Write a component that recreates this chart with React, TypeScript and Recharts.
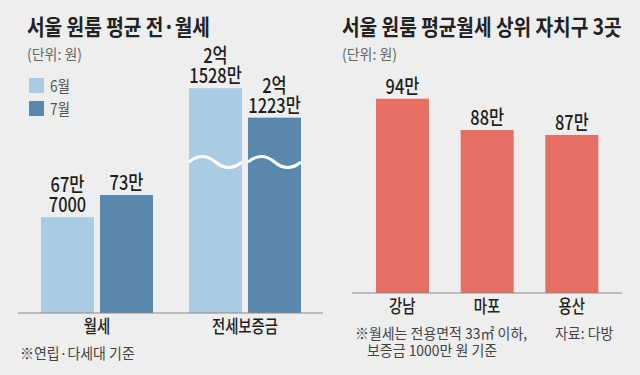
import { BarChart, Bar, XAxis, YAxis, LabelList } from "recharts";

const months = ["6월", "7월"];
const rentByMonth = [677000, 730000]; // 월세, 원
const depositByMonth = [215280000, 212230000]; // 전세보증금, 원
const districts = ["강남", "마포", "용산"];
const districtRent = [940000, 880000, 870000];

const FONT = "'Noto Sans CJK KR', 'Noto Sans', sans-serif";
const SQUEEZE = 0.8;
const BLUE_LIGHT = "#a9cbe3";
const BLUE_DARK = "#5a88ad";
const RED = "#e66f63";
const BG = "#eeeeee";
const AXIS = "#8a8a8a";

const rentData = [{ name: "월세", m6: rentByMonth[0], m7: rentByMonth[1] }];
const depositData = [
  { name: "전세보증금", m6: depositByMonth[0], m7: depositByMonth[1] },
];
const districtData = districts.map((name, i) => ({ name, rent: districtRent[i] }));

// 677000 -> ["67만", "7000"], 215280000 -> ["2억", "1528만"]
function splitWon(v: number): string[] {
  const eok = Math.floor(v / 1e8);
  const man = Math.floor((v % 1e8) / 1e4);
  const rest = v % 1e4;
  if (eok) return [`${eok}억`, ...(man ? [`${man}만`] : [])];
  return [`${man}만`, ...(rest ? [`${rest}`] : [])];
}

const squeeze = (cx: number, s = SQUEEZE) =>
  `matrix(${s} 0 0 1 ${cx * (1 - s)} 0)`;

const LINE = 20;

const ValueLabel = (props: any) => {
  const { x, y, width, value } = props;
  const lines = splitWon(Number(value));
  const cx = Number(x) + Number(width) / 2;
  return (
    <text
      x={cx}
      y={Number(y) - 5 - (lines.length - 1) * LINE}
      textAnchor="middle"
      fontSize={20}
      fontWeight={500}
      fill="#1e1e1e"
      fontFamily={FONT}
      transform={squeeze(cx, 0.82)}
    >
      {lines.map((l, i) => (
        <tspan key={i} x={cx} dy={i ? LINE : 0}>
          {l}
        </tspan>
      ))}
    </text>
  );
};

const CategoryTick = (props: any) => {
  const { x, y, payload } = props;
  return (
    <text
      x={x}
      y={y + 20}
      textAnchor="middle"
      fontSize={18}
      fontWeight={500}
      fill="#222"
      fontFamily={FONT}
      transform={squeeze(x)}
    >
      {payload.value}
    </text>
  );
};

// bar with the white "broken axis" wave
const WaveBar = (props: any) => {
  const { x, y, width, height, fill } = props;
  const y0 = y + height - 151;
  const d = `M${x},${y0} Q${x + width / 4},${y0 - 11} ${x + width / 2},${y0} T${x + width},${y0}`;
  return (
    <g>
      <rect x={x} y={y} width={width} height={height} fill={fill} />
      <path d={d} stroke="#ffffff" strokeWidth={3} fill="none" />
    </g>
  );
};

function Note({
  left,
  top,
  size,
  weight = 400,
  color = "#333",
  squeezeX = 0.93,
  children,
}: {
  left: number;
  top: number;
  size: number;
  weight?: number;
  color?: string;
  squeezeX?: number;
  children: any;
}) {
  return (
    <div
      style={{
        position: "absolute",
        left,
        top,
        fontSize: size,
        fontWeight: weight,
        color,
        lineHeight: 1,
        whiteSpace: "nowrap",
        fontFamily: FONT,
        transform: `scaleX(${squeezeX})`,
        transformOrigin: "left top",
      }}
    >
      {children}
    </div>
  );
}

const place = (left: number, top: number): React.CSSProperties => ({
  position: "absolute",
  left,
  top,
});

export default function App() {
  return (
    <div
      style={{
        position: "absolute",
        left: 0,
        top: 0,
        width: 640,
        height: 375,
        background: BG,
        overflow: "hidden",
      }}
    >
      <Note left={27} top={14} size={22} weight={700} color="#222" squeezeX={0.87}>
        서울 원룸 평균 전·월세
      </Note>
      <Note left={27} top={46} size={15} color="#666">
        (단위: 원)
      </Note>
      {months.map((m, i) => (
        <div key={m}>
          <div
            style={{
              ...place(29, 78 + i * 23),
              width: 15,
              height: 15,
              background: i ? BLUE_DARK : BLUE_LIGHT,
            }}
          />
          <Note left={50} top={77 + i * 23} size={16} color="#555" squeezeX={0.85}>
            {m}
          </Note>
        </div>
      ))}

      <div style={place(18, 30)}>
        <BarChart
          width={158}
          height={320}
          data={rentData}
          margin={{ top: 30, right: 0, bottom: 0, left: 0 }}
          barGap={6}
        >
          <XAxis
            dataKey="name"
            height={37}
            tickLine={false}
            tickSize={0}
            tickMargin={0}
            stroke={AXIS}
            tick={<CategoryTick />}
          />
          <YAxis hide domain={[450000, 1050000]} />
          <Bar dataKey="m6" name={months[0]} fill={BLUE_LIGHT} barSize={53} isAnimationActive={false}>
            <LabelList dataKey="m6" content={ValueLabel} />
          </Bar>
          <Bar dataKey="m7" name={months[1]} fill={BLUE_DARK} barSize={53} isAnimationActive={false}>
            <LabelList dataKey="m7" content={ValueLabel} />
          </Bar>
        </BarChart>
      </div>

      <div style={place(176, 30)}>
        <BarChart
          width={147}
          height={320}
          data={depositData}
          margin={{ top: 30, right: 0, bottom: 0, left: 0 }}
          barGap={6}
        >
          <XAxis
            dataKey="name"
            height={37}
            tickLine={false}
            tickSize={0}
            tickMargin={0}
            stroke={AXIS}
            padding={{ left: 0, right: 9 }}
            tick={<CategoryTick />}
          />
          <YAxis hide domain={[192000000, 218200000]} />
          <Bar dataKey="m6" name={months[0]} fill={BLUE_LIGHT} barSize={53} shape={WaveBar} isAnimationActive={false}>
            <LabelList dataKey="m6" content={ValueLabel} />
          </Bar>
          <Bar dataKey="m7" name={months[1]} fill={BLUE_DARK} barSize={53} shape={WaveBar} isAnimationActive={false}>
            <LabelList dataKey="m7" content={ValueLabel} />
          </Bar>
        </BarChart>
      </div>

      <Note left={20} top={345} size={15} color="#444">
        ※연립·다세대 기준
      </Note>

      <Note left={342} top={14} size={22} weight={700} color="#222" squeezeX={0.87}>
        서울 원룸 평균월세 상위 자치구 3곳
      </Note>
      <Note left={342} top={46} size={15} color="#666">
        (단위: 원)
      </Note>

      <div style={place(352, 30)}>
        <BarChart
          width={270}
          height={300}
          data={districtData}
          margin={{ top: 30, right: 0, bottom: 0, left: 0 }}
        >
          <XAxis
            dataKey="name"
            height={37}
            tickLine={false}
            tickSize={0}
            tickMargin={0}
            stroke={AXIS}
            padding={{ left: 8, right: 8 }}
            tick={<CategoryTick />}
          />
          <YAxis hide domain={[565000, 1015000]} />
          <Bar dataKey="rent" fill={RED} barSize={53} isAnimationActive={false}>
            <LabelList dataKey="rent" content={ValueLabel} />
          </Bar>
        </BarChart>
      </div>

      <Note left={355} top={325} size={15} color="#444">
        ※월세는 전용면적 33㎡ 이하,
      </Note>
      <Note left={367} top={342} size={15} color="#444">
        보증금 1000만 원 기준
      </Note>
      <Note left={555} top={325} size={15} color="#444">
        자료: 다방
      </Note>
    </div>
  );
}
